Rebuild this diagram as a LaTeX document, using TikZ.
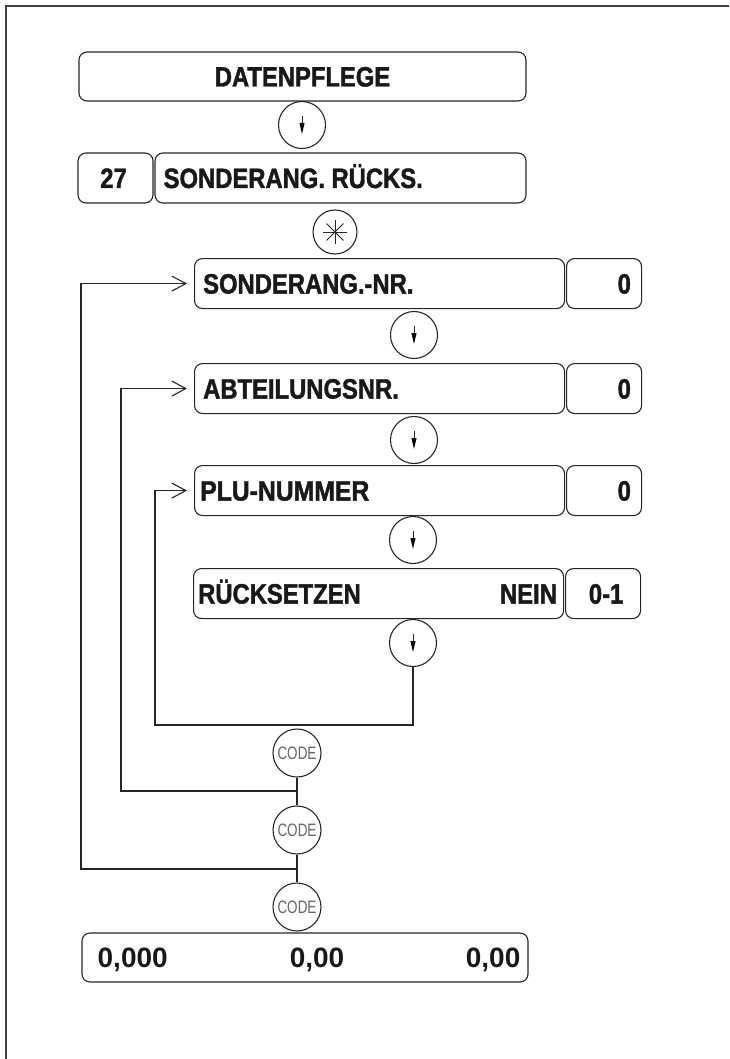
\documentclass[tikz,border=0pt]{standalone}
\usepackage{fontspec}
\usetikzlibrary{arrows.meta}
\newfontfamily\condfont[FakeStretch=0.85,BoldFeatures={FakeBold=1.5}]{Liberation Sans}
\newfontfamily\numfont{Liberation Sans}
\newfontfamily\codefont[FakeStretch=0.75]{Liberation Sans}
\begin{document}
\begin{tikzpicture}[x=1pt,y=-1pt,
 rbox/.style={draw=black!85, line width=1.1pt, rounded corners=8pt, inner sep=0pt, minimum height=50pt},
 lbl/.style={font=\condfont\bfseries\fontsize{28}{31}\selectfont, inner sep=0pt, text height=20pt, text depth=0pt, text=black!90},
 num/.style={font=\numfont\bfseries\fontsize{28}{32}\selectfont, inner sep=0pt, text height=20pt, text depth=0pt, text=black!90},
 arrc/.style={circle, draw=black!85, line width=1.1pt, minimum size=47pt, inner sep=0pt,
   path picture={
     \draw[line width=0.9pt] ([yshift=9pt]path picture bounding box.center) -- ([yshift=-2pt]path picture bounding box.center);
     \fill ([yshift=-9pt]path picture bounding box.center) -- ++(-2.6pt,11pt) -- ++(5.2pt,0pt) -- cycle;}},
 starc/.style={circle, draw=black!85, line width=1.1pt, minimum size=44pt, inner sep=0pt,
   path picture={
     \foreach \a in {0,45,90,135}{
       \draw[line width=0.9pt] ([shift={(\a:12pt)}]path picture bounding box.center) -- ([shift={(\a+180:12pt)}]path picture bounding box.center);}}},
 codec/.style={circle, draw=black!85, line width=1.1pt, minimum size=48pt, inner sep=0pt,
   font=\codefont\fontsize{18}{21}\selectfont, text=black!60, text height=12.9pt, text depth=0pt},
 conn/.style={draw=black!85, line width=1.1pt},
 tip/.style={-{Straight Barb[length=14pt,width=15pt]}, shorten >=7pt},
 frame/.style={draw=black!75, line width=2pt}
]
\useasboundingbox (0,0) rectangle (729,1059);
\coordinate (fb) at (6,1059);
\coordinate (fc) at (6,6);
\coordinate (fr) at (729,6);
\draw[frame] (fb) -- (fc) -- (fr);

% top
\node[rbox, minimum width=447pt, minimum height=49pt] (top) at (302.5,76.5) {};
\node[lbl] (topt) at (top.center) {DATENPFLEGE};
\node[arrc] (a1) at (302,125) {};
\node[rbox, minimum width=75pt] (n27) at (115.5,178) {};
\node[lbl] (n27t) at ([xshift=-2pt]n27.center) {27};
\node[rbox, minimum width=371pt] (sr) at (340.5,178) {};
\node[lbl, anchor=west] (srt) at ([xshift=9pt]sr.west) {SONDERANG. RÜCKS.};
\node[starc] (st) at (335,232) {};

% rows
\node[rbox, minimum width=370pt, anchor=north west] (r1) at (194,258) {};
\node[rbox, minimum width=75pt, anchor=north west] (v1) at (566,258) {};
\node[lbl, anchor=west] (r1t) at ([xshift=9pt]r1.west) {SONDERANG.-NR.};
\node[lbl, anchor=east] (v1t) at ([xshift=-11pt]v1.east) {0};
\node[arrc] (a2) at (414,335) {};

\node[rbox, minimum width=370pt, anchor=north west] (r2) at (194,363) {};
\node[rbox, minimum width=75pt, anchor=north west] (v2) at (566,363) {};
\node[lbl, anchor=west] (r2t) at ([xshift=9pt]r2.west) {ABTEILUNGSNR.};
\node[lbl, anchor=east] (v2t) at ([xshift=-11pt]v2.east) {0};
\node[arrc] (a3) at (414,440) {};

\node[rbox, minimum width=370pt, anchor=north west] (r3) at (194,465) {};
\node[rbox, minimum width=75pt, anchor=north west] (v3) at (566,465) {};
\node[lbl, anchor=west, xscale=1.04] (r3t) at ([xshift=6pt]r3.west) {PLU-NUMMER};
\node[lbl, anchor=east] (v3t) at ([xshift=-11pt]v3.east) {0};
\node[arrc] (a4) at (413,540) {};

\node[rbox, minimum width=370pt, anchor=north west] (r4) at (193,568) {};
\node[rbox, minimum width=75pt, anchor=north west] (v4) at (565,568) {};
\node[lbl, anchor=west] (r4t) at ([xshift=5pt]r4.west) {RÜCKSETZEN};
\node[lbl, anchor=east] (r4n) at ([xshift=-7pt]r4.east) {NEIN};
\node[lbl] (v4t) at ([xshift=3pt]v4.center) {0-1};
\node[arrc] (a5) at (413,643) {};

% code keys
\node[codec] (c1) at (297,753) {CODE};
\node[codec] (c2) at (297,830) {CODE};
\node[codec] (c3) at (297,907) {CODE};

% bottom display
\node[rbox, minimum width=446pt, minimum height=49pt] (bot) at (305,957.5) {};
\node[num, anchor=west] (b1) at ([xshift=16pt]bot.west) {0,000};
\node[num] (b2) at (317,957.5) {0,00};
\node[num, anchor=east] (b3) at ([xshift=-8pt]bot.east) {0,00};

% loops
\coordinate (k3) at (155,725);
\coordinate (k2) at (121,791);
\coordinate (k1) at (81,869);
\draw[conn, tip] (a5.south) |- (k3) |- (r3.west);
\draw[conn, tip] (c1.south) |- (k2) |- (r2.west);
\draw[conn, tip] (c2.south) |- (k1) |- (r1.west);
\draw[conn] (c1.south) -- (c2.north);
\draw[conn] (c2.south) -- (c3.north);
\end{tikzpicture}
\end{document}
